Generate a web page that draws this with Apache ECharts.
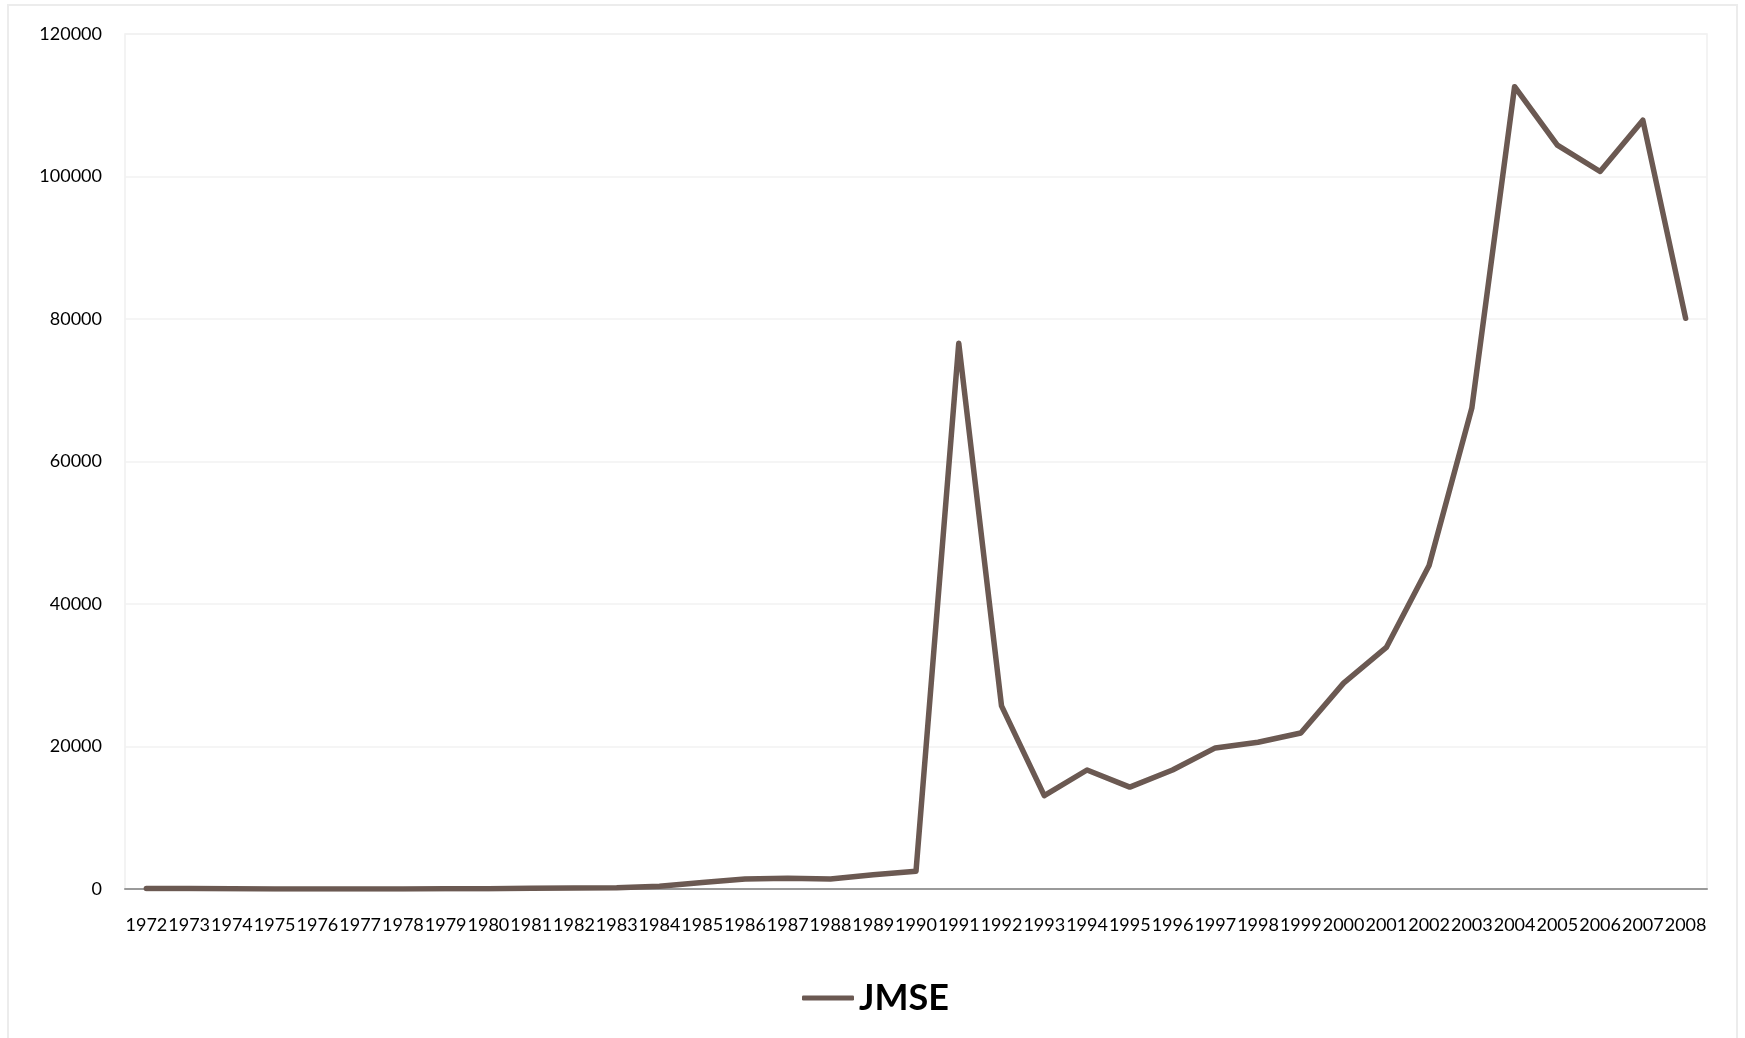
<!DOCTYPE html>
<html>
<head>
<meta charset="utf-8">
<script src="https://cdn.jsdelivr.net/npm/echarts@6/dist/echarts.min.js"></script>
<style>
html,body{margin:0;padding:0;background:#fff;}
#chart{width:1745px;height:1038px;}
</style>
</head>
<body>
<div id="chart"></div>
<script>
const years = ['1972','1973','1974','1975','1976','1977','1978','1979','1980','1981','1982','1983','1984','1985','1986','1987','1988','1989','1990','1991','1992','1993','1994','1995','1996','1997','1998','1999','2000','2001','2002','2003','2004','2005','2006','2007','2008'];
const jmse = [80,60,20,10,10,10,10,20,50,100,150,180,400,900,1400,1500,1400,2000,2500,76600,25700,13100,16700,14300,16700,19800,20600,21900,28900,33900,45400,67500,112600,104400,100700,107900,80100];
const yTicks = [0,20000,40000,60000,80000,100000,120000];

const chart = echarts.init(document.getElementById('chart'), null, {renderer:'canvas'});
const font = 'Lato, "Open Sans", sans-serif';
chart.setOption({
  animation:false,
  backgroundColor:'#fff',
  graphic:[
    {type:'rect', shape:{x:8,y:5,width:1729,height:1040}, style:{fill:'none',stroke:'#ececec',lineWidth:2}, silent:true, z:-10},
    {type:'rect', shape:{x:125,y:34,width:1582,height:855}, style:{fill:'none',stroke:'#efefef',lineWidth:1.5}, silent:true, z:-5}
  ],
  grid:{left:125,right:38,top:34,bottom:149,containLabel:false},
  legend:{
    show:true,
    data:[{name:'JMSE', icon:'roundRect'}],
    left:797, top:975,
    itemWidth:52, itemHeight:5,
    textStyle:{fontFamily:font,fontSize:36,fontWeight:'bold',color:'#000'},
    selectedMode:false
  },
  xAxis:{
    type:'category',
    data:years,
    boundaryGap:true,
    axisLine:{show:true,lineStyle:{color:'#9a9a9a',width:2}},
    axisTick:{show:false},
    axisLabel:{interval:0,fontFamily:font,fontSize:18,color:'#000',margin:27},
    splitLine:{show:false}
  },
  yAxis:{
    type:'value',
    min:yTicks[0], max:yTicks[yTicks.length-1], interval:20000,
    axisLine:{show:false},
    axisTick:{show:false},
    axisLabel:{fontFamily:font,fontSize:18,color:'#000',margin:23,formatter:function(v){return String(v);}},
    splitLine:{show:true,lineStyle:{color:'#f2f2f2',width:1.5}}
  },
  series:[{
    name:'JMSE',
    type:'line',
    data:jmse,
    symbol:'none',
    lineStyle:{color:'#6b5952',width:5.5,cap:'round',join:'round'},
    itemStyle:{color:'#6b5952'}
  }]
});
</script>
</body>
</html>
